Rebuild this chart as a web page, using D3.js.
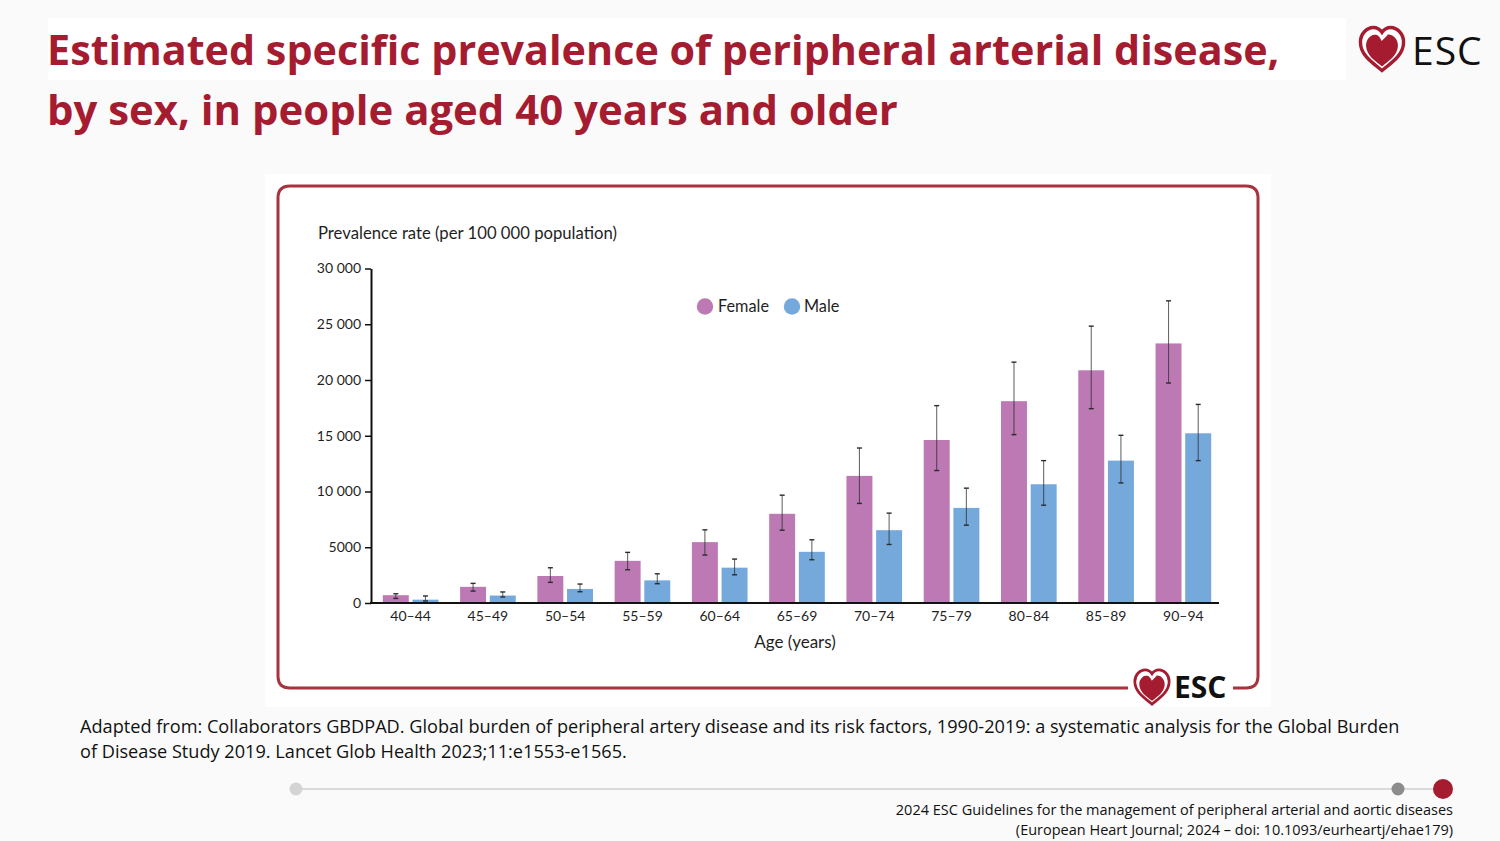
<!DOCTYPE html>
<head>
  <meta charset="utf-8">
  <script src="https://d3js.org/d3.v7.min.js"></script>
  <style>
    html, body { margin: 0; padding: 0; background: #fafafa; }
    svg { display: block; width: 1500px; height: 841px; }
    .chart-text { font-family: Lato, sans-serif; fill: #1f1f1f; }
    .slide-text { font-family: "Open Sans", sans-serif; fill: #111; }
    .axis path, .axis line { stroke: #111; }
  </style>
</head>

<body>
  <svg viewBox="0 0 1500 841"></svg>

  <script>
    const ages = ['40–44', '45–49', '50–54', '55–59', '60–64', '65–69', '70–74', '75–79', '80–84', '85–89', '90–94'];
    const sexes = ['Female', 'Male'];

    const femaleValues = [700, 1450, 2420, 3780, 5460, 8000, 11400, 14620, 18100, 20870, 23280];
    const femaleHigh = [830, 1760, 3160, 4540, 6560, 9670, 13900, 17700, 21600, 24830, 27100];
    const femaleLow = [410, 1070, 1850, 2980, 4300, 6530, 8930, 11880, 15100, 17430, 19730];

    const maleValues = [300, 670, 1260, 2030, 3170, 4590, 6530, 8530, 10650, 12770, 15220];
    const maleHigh = [630, 990, 1700, 2620, 3940, 5670, 8060, 10300, 12770, 15040, 17810];
    const maleLow = [180, 540, 1010, 1730, 2530, 3880, 5250, 6980, 8770, 10770, 12770];

    const yTicks = [0, 5000, 10000, 15000, 20000, 25000, 30000];
    const yTickLabels = ['0', '5000', '10 000', '15 000', '20 000', '25 000', '30 000'];

    const titleLines = [
      'Estimated specific prevalence of peripheral arterial disease,',
      'by sex, in people aged 40 years and older'
    ];
    const sourceLines = [
      'Adapted from: Collaborators GBDPAD. Global burden of peripheral artery disease and its risk factors, 1990-2019: a systematic analysis for the Global Burden',
      'of Disease Study 2019. Lancet Glob Health 2023;11:e1553-e1565.'
    ];
    const citeLines = [
      '2024 ESC Guidelines for the management of peripheral arterial and aortic diseases',
      '(European Heart Journal; 2024 – doi: 10.1093/eurheartj/ehae179)'
    ];

    const red = '#a51c30';
    const colors = { Female: '#bd79b3', Male: '#75a9dc' };

    const svg = d3.select('svg');

    // white patches behind title and pasted figure
    svg.append('rect').attr('x', 48).attr('y', 18).attr('width', 1298).attr('height', 62).attr('fill', '#fff');
    svg.append('rect').attr('x', 265).attr('y', 174).attr('width', 1006).attr('height', 533).attr('fill', '#fff');

    svg.selectAll('.title').data(titleLines).enter().append('text')
      .attr('class', 'title slide-text')
      .attr('x', 47)
      .attr('y', (d, i) => 65 + i * 60)
      .attr('font-size', (d, i) => i === 0 ? 41.3 : 41.9)
      .attr('font-weight', 700)
      .style('fill', red)
      .text(d => d);

    // panel border, open at the bottom for the logo
    svg.append('path')
      .attr('d', 'M1128,688 H290 Q278,688 278,676 V198 Q278,186 290,186 H1246 Q1258,186 1258,198 V676 Q1258,688 1246,688 H1233')
      .attr('fill', 'none')
      .attr('stroke', '#a8323e')
      .attr('stroke-width', 3);

    // scales
    const x = d3.scaleBand().domain(ages).range([372, 1222]).paddingInner(0.28).paddingOuter(0.14);
    const xSex = d3.scaleBand().domain(sexes).range([0, x.bandwidth()]).paddingInner(0.125);
    const y = d3.scaleLinear().domain([0, 30000]).range([603, 268.5]);

    const rows = [];
    ages.forEach((age, i) => {
      rows.push({ age, sex: 'Female', value: femaleValues[i], high: femaleHigh[i], low: femaleLow[i] });
      rows.push({ age, sex: 'Male', value: maleValues[i], high: maleHigh[i], low: maleLow[i] });
    });

    const barX = d => x(d.age) + xSex(d.sex);
    const barMid = d => barX(d) + xSex.bandwidth() / 2;

    // bars
    svg.selectAll('.bar').data(rows).enter().append('rect')
      .attr('class', 'bar')
      .attr('x', barX)
      .attr('y', d => y(d.value))
      .attr('width', xSex.bandwidth())
      .attr('height', d => y(0) - y(d.value))
      .attr('fill', d => colors[d.sex]);

    // error bars
    const err = svg.selectAll('.err').data(rows).enter().append('g')
      .attr('class', 'err')
      .attr('stroke', '#2b2b2b');
    err.append('line')
      .attr('x1', barMid).attr('x2', barMid)
      .attr('y1', d => y(d.high)).attr('y2', d => y(d.low))
      .attr('stroke-width', 1.1)
      .attr('stroke-opacity', 0.7);
    err.selectAll('.cap').data(d => [d.high, d.low].map(v => ({ v, mid: barMid(d) }))).enter().append('line')
      .attr('class', 'cap')
      .attr('x1', d => d.mid - 2.5).attr('x2', d => d.mid + 2.5)
      .attr('y1', d => y(d.v)).attr('y2', d => y(d.v))
      .attr('stroke-width', 1.4);

    // axes
    const xAxis = d3.axisBottom(x).tickSize(0).tickPadding(8);
    const gx = svg.append('g').attr('class', 'axis').attr('transform', `translate(0,${y(0)})`).call(xAxis);
    gx.select('.domain').remove();
    gx.append('line').attr('x1', 370).attr('x2', 1219).attr('stroke-width', 2);
    gx.selectAll('text').attr('class', 'chart-text').attr('font-size', 14);

    const yAxis = d3.axisLeft(y)
      .tickValues(yTicks)
      .tickFormat((d, i) => yTickLabels[i])
      .tickSize(6)
      .tickSizeOuter(0)
      .tickPadding(4);
    const gy = svg.append('g').attr('class', 'axis').attr('transform', 'translate(371,0)').call(yAxis);
    gy.select('.domain').attr('stroke-width', 2);
    gy.selectAll('line').attr('stroke-width', 1.5);
    gy.selectAll('text').attr('class', 'chart-text').attr('font-size', 14);

    svg.append('text').attr('class', 'chart-text').attr('x', 318).attr('y', 239).attr('font-size', 16.7)
      .text('Prevalence rate (per 100 000 population)');
    svg.append('text').attr('class', 'chart-text').attr('x', 795).attr('y', 648).attr('font-size', 17)
      .attr('text-anchor', 'middle').text('Age (years)');

    // legend
    const legendX = { Female: 705, Male: 792 };
    const legend = svg.selectAll('.legend').data(sexes).enter().append('g')
      .attr('class', 'legend')
      .attr('transform', d => `translate(${legendX[d]},306.5)`);
    legend.append('circle').attr('r', 8.2).attr('fill', d => colors[d]);
    legend.append('text').attr('class', 'chart-text').attr('x', d => d === 'Male' ? 12 : 13).attr('y', 5.5).attr('font-size', 16.3).text(d => d);

    // heart logo
    const heart = 'M0,22 C-8,15 -22,7 -22,-7 C-22,-16 -15,-22 -9,-22 C-5,-22 -2,-20 0,-17 C2,-20 5,-22 9,-22 C15,-22 22,-16 22,-7 C22,7 8,15 0,22Z';
    function drawLogo(cx, cy, s) {
      const g = svg.append('g').attr('transform', `translate(${cx},${cy}) scale(${s})`);
      g.append('path').attr('d', heart).attr('fill', '#fff').attr('stroke', red).attr('stroke-width', 3.5);
      g.append('path').attr('d', heart).attr('fill', red)
        .attr('transform', 'translate(0,1.5) scale(0.74)');
      g.append('path').attr('d', 'M-10,-16 C-5,-17 -2,-14 0,-10 L5,-15').attr('fill', 'none').attr('stroke', '#fff').attr('stroke-width', 2.2);
    }

    drawLogo(1382, 49, 0.98);
    svg.append('text').attr('x', 1412).attr('y', 65).attr('font-family', '"Open Sans", sans-serif')
      .attr('font-size', 39).attr('font-weight', 500).attr('letter-spacing', 1).attr('fill', '#111').text('ESC');

    drawLogo(1152, 687, 0.78);
    svg.append('text').attr('x', 1174).attr('y', 698).attr('font-family', '"Open Sans", sans-serif')
      .attr('font-size', 30).attr('font-weight', 700).attr('fill', '#111').text('ESC');

    // source + citation
    svg.selectAll('.source').data(sourceLines).enter().append('text')
      .attr('class', 'source slide-text')
      .attr('x', 80)
      .attr('y', (d, i) => 733 + i * 25)
      .attr('font-size', 18.15)
      .text(d => d);

    svg.selectAll('.cite').data(citeLines).enter().append('text')
      .attr('class', 'cite slide-text')
      .attr('x', 1453)
      .attr('y', (d, i) => 814.5 + i * 20)
      .attr('text-anchor', 'end')
      .attr('font-size', 14.5)
      .text(d => d);

    // footer timeline
    svg.append('line').attr('x1', 296).attr('x2', 1443).attr('y1', 789).attr('y2', 789).attr('stroke', '#cfcfcf').attr('stroke-width', 1.5);
    svg.append('circle').attr('cx', 296).attr('cy', 789).attr('r', 6.5).attr('fill', '#d4d4d4');
    svg.append('circle').attr('cx', 1398).attr('cy', 789).attr('r', 6.5).attr('fill', '#8c8c8c');
    svg.append('circle').attr('cx', 1443).attr('cy', 789).attr('r', 10).attr('fill', red);
  </script>
</body>
